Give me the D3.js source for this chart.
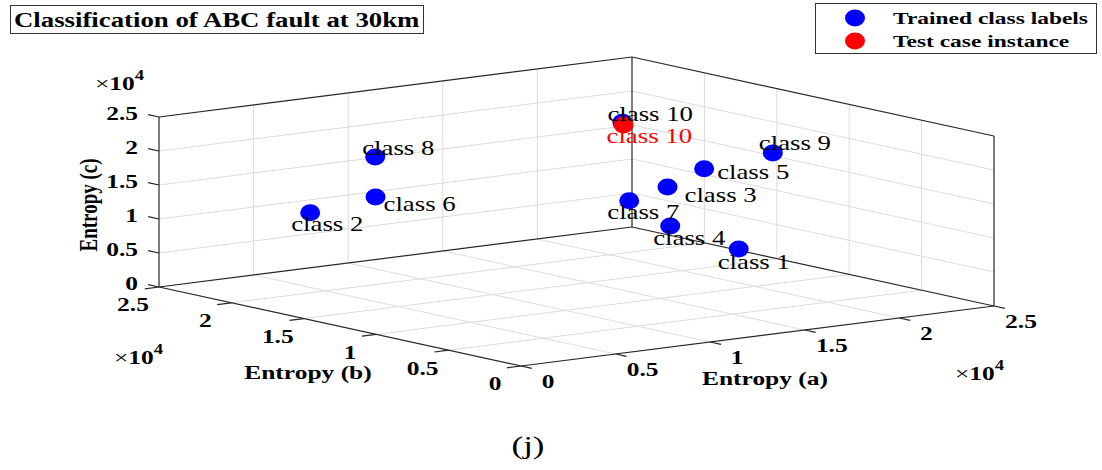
<!DOCTYPE html>
<html>
<head>
<meta charset="utf-8">
<script src="https://cdn.jsdelivr.net/npm/d3@7"></script>
<style>
  html, body { margin: 0; padding: 0; background: #fff; }
  svg { display: block; }
  text { font-family: "Liberation Serif", "Times New Roman", serif; }
</style>
</head>
<body>
<svg id="chart" width="1102" height="470"></svg>
<script>
// Trained class points in feature space (entropy of phases a, b, c)
const classNames = ["class 1", "class 2", "class 3", "class 4", "class 5",
                    "class 6", "class 7", "class 8", "class 9", "class 10"];
const entropyA = [17400, 4700, 18000, 17300, 19400, 8000, 15900, 8900, 22800, 17300];
const entropyB = [7700, 20700, 13400, 12300, 12700, 20500, 13300, 21700, 12400, 15600];
const entropyC = [7500, 11250, 13750, 8750, 16250, 12500, 12500, 17500, 17500, 22500];

// Test case instance and its predicted class
const testNames = ["class 10"];
const testA = [16900];
const testB = [15000];
const testC = [22500];

// Axis ticks (shared by all three axes, values scaled by 10^4)
const tickValues = [0, 5000, 10000, 15000, 20000, 25000];
const tickLabels = ["0", "0.5", "1", "1.5", "2", "2.5"];
const gridValues = [5000, 10000, 15000, 20000];

const legendItems = ["Trained class labels", "Test case instance"];
const legendColors = ["#0000ff", "#ff0000"];

// ---- layout ----
const SX = 1.34;                 // horizontal stretch of the figure's text
const origin = [521, 366];       // screen position of (a=0, b=0, c=0)
const vecA = [473, -60];         // screen span of the a axis
const vecB = [-362, -79];        // screen span of the b axis
const vecC = [0, -170];          // screen span of the c axis

// label placement (left x, vertical centre) relative to each marker
const labelOffsets = [[-21, 13], [-19, 11], [17, 8], [-17, 12], [13, 3],
                      [8, 7], [-22, 11], [-13, -9], [-14, -10], [-15, -8]];
const testLabelOffsets = [[-17, 11]];

const sA = d3.scaleLinear().domain([0, 25000]).range([0, 1]);
const sB = d3.scaleLinear().domain([0, 25000]).range([0, 1]);
const sC = d3.scaleLinear().domain([0, 25000]).range([0, 1]);

function project(a, b, c) {
  const fa = sA(a), fb = sB(b), fc = sC(c);
  return [origin[0] + fa * vecA[0] + fb * vecB[0] + fc * vecC[0],
          origin[1] + fa * vecA[1] + fb * vecB[1] + fc * vecC[1]];
}

const svg = d3.select("#chart");

function stretchedText(parent, x, y, str, opts = {}) {
  const t = parent.append("text")
    .attr("transform", `translate(${x},${y}) scale(${SX},1)` + (opts.rotate ? ` rotate(${opts.rotate})` : ""))
    .attr("font-size", opts.size || 19)
    .attr("font-weight", opts.bold ? "bold" : "normal")
    .attr("text-anchor", opts.anchor || "start")
    .attr("dominant-baseline", opts.baseline || "central")
    .attr("fill", opts.color || "#000");
  t.text(str);
  return t;
}

function segment(g, p, q, stroke, width) {
  g.append("line")
    .attr("x1", p[0]).attr("y1", p[1])
    .attr("x2", q[0]).attr("y2", q[1])
    .attr("stroke", stroke).attr("stroke-width", width);
}

const M = 25000;
const grid = svg.append("g");
const gridColor = "#dcdcdc";

// back wall b = max
gridValues.forEach(v => {
  segment(grid, project(v, M, 0), project(v, M, M), gridColor, 1);
  segment(grid, project(0, M, v), project(M, M, v), gridColor, 1);
});
// back wall a = max
gridValues.forEach(v => {
  segment(grid, project(M, v, 0), project(M, v, M), gridColor, 1);
  segment(grid, project(M, 0, v), project(M, M, v), gridColor, 1);
});
// floor c = 0
gridValues.forEach(v => {
  segment(grid, project(v, 0, 0), project(v, M, 0), gridColor, 1);
  segment(grid, project(0, v, 0), project(M, v, 0), gridColor, 1);
});

// box edges
const box = svg.append("g");
const edgeColor = "#262626";
[
  [[0, 0, 0], [M, 0, 0]],
  [[0, 0, 0], [0, M, 0]],
  [[0, M, 0], [M, M, 0]],
  [[M, 0, 0], [M, M, 0]],
  [[0, M, 0], [0, M, M]],
  [[M, M, 0], [M, M, M]],
  [[M, 0, 0], [M, 0, M]],
  [[0, M, M], [M, M, M]],
  [[M, 0, M], [M, M, M]]
].forEach(([p, q]) => segment(box, project(...p), project(...q), edgeColor, 1.2));

// ticks
const tickLen = 0.03 * M;
tickValues.forEach(v => {
  segment(box, project(v, 0, 0), project(v, -tickLen, 0), edgeColor, 1.2);   // a axis
  segment(box, project(0, v, 0), project(-tickLen, v, 0), edgeColor, 1.2);   // b axis
  segment(box, project(0, M, v), project(0, M + tickLen, v), edgeColor, 1.2); // c axis
});

// tick labels
const labels = svg.append("g");
tickValues.forEach((v, i) => {
  const pa = project(v, 0, 0);
  stretchedText(labels, pa[0] + 27, pa[1] + 16, tickLabels[i], {bold: true, anchor: "middle"});
  const pb = project(0, v, 0);
  stretchedText(labels, pb[0] - 26, pb[1] + 18, tickLabels[i], {bold: true, anchor: "middle"});
  const pc = project(0, M, v);
  stretchedText(labels, pc[0] - 21, pc[1] - 3, tickLabels[i], {bold: true, anchor: "end"});
});

// exponent markers
function exponent(x, y) {
  const t = stretchedText(labels, x, y, "", {bold: true});
  t.append("tspan").attr("font-weight", "normal").text("\u00d7");
  t.append("tspan").text("10");
  t.append("tspan").attr("dy", -8).attr("font-size", 14).text("4");
}
exponent(95, 83);
exponent(114, 357);
exponent(955, 373);

// axis titles
stretchedText(labels, 765, 379, "Entropy (a)", {bold: true, anchor: "middle"});
stretchedText(labels, 308, 373, "Entropy (b)", {bold: true, anchor: "middle"});
stretchedText(labels, 88, 205, "Entropy (c)", {bold: true, anchor: "middle", rotate: -90});

// markers
const marks = svg.append("g");
const trained = classNames.map((n, i) => ({name: n, p: project(entropyA[i], entropyB[i], entropyC[i]), off: labelOffsets[i]}));
const tests = testNames.map((n, i) => ({name: n, p: project(testA[i], testB[i], testC[i]), off: testLabelOffsets[i]}));

marks.selectAll("ellipse.trained").data(trained).join("ellipse")
  .attr("class", "trained")
  .attr("cx", d => d.p[0]).attr("cy", d => d.p[1])
  .attr("rx", 10).attr("ry", 8.5)
  .attr("fill", legendColors[0]);
marks.selectAll("ellipse.test").data(tests).join("ellipse")
  .attr("class", "test")
  .attr("cx", d => d.p[0]).attr("cy", d => d.p[1])
  .attr("rx", 10).attr("ry", 8.5)
  .attr("fill", legendColors[1]);

trained.forEach(d => stretchedText(marks, d.p[0] + d.off[0], d.p[1] + d.off[1], d.name, {size: 20}));
tests.forEach(d => stretchedText(marks, d.p[0] + d.off[0], d.p[1] + d.off[1], d.name, {size: 20, color: legendColors[1]}));

// title
const title = svg.append("g");
title.append("rect").attr("x", 10.5).attr("y", 5.5).attr("width", 413).attr("height", 28)
  .attr("fill", "#fff").attr("stroke", "#333").attr("stroke-width", 1);
stretchedText(title, 14, 20, "Classification of ABC fault at 30km", {bold: true, size: 20});

// legend
const legend = svg.append("g");
legend.append("rect").attr("x", 815.5).attr("y", 3.5).attr("width", 281).attr("height", 50)
  .attr("fill", "#fff").attr("stroke", "#333").attr("stroke-width", 1);
legendItems.forEach((s, i) => {
  const y = 18 + i * 23;
  legend.append("ellipse").attr("cx", 855).attr("cy", y).attr("rx", 10).attr("ry", 8.5).attr("fill", legendColors[i]);
  stretchedText(legend, 893, y, s, {bold: true, size: 17.5});
});

// panel caption
stretchedText(svg, 528, 446, "(j)", {size: 26, anchor: "middle"});
</script>
</body>
</html>
